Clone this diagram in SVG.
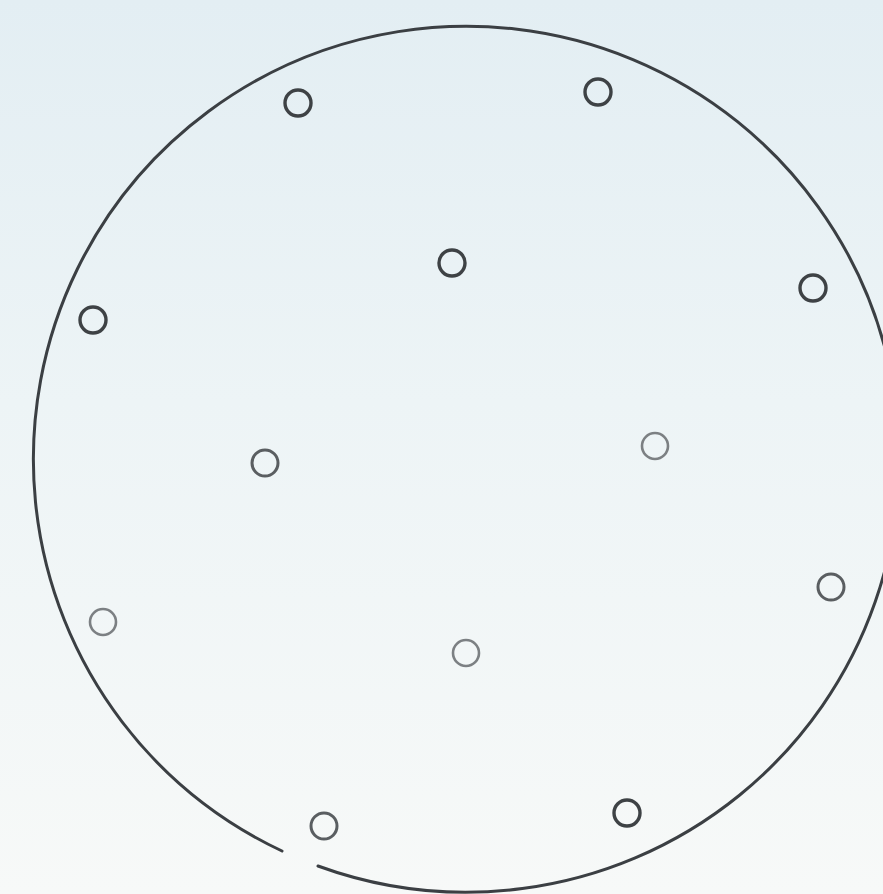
<svg xmlns="http://www.w3.org/2000/svg" width="883" height="894" viewBox="0 0 883 894">
  <defs>
    <linearGradient id="bg" x1="0" y1="0" x2="0" y2="1">
      <stop offset="0" stop-color="#e3eef3"/>
      <stop offset="0.45" stop-color="#edf4f6"/>
      <stop offset="1" stop-color="#f7f9f8"/>
    </linearGradient>
    <style>
      .rim { fill: none; stroke: #3b3f43; stroke-width: 3; stroke-linecap: round; }
      .hole { fill: none; stroke-width: 3.4; }
      .dark { stroke: #3e4245; }
      .mid { stroke: #5a5e61; stroke-width: 3; }
      .light { stroke: #7c8083; stroke-width: 2.6; }
    </style>
  </defs>
  <rect x="0" y="0" width="883" height="894" fill="url(#bg)"/>
  <g id="plate">
    <path class="rim" d="M318 866 A433 433 0 1 0 282 851"/>
  </g>
  <g id="holes">
    <g id="hole1"><circle class="hole dark" cx="298" cy="103" r="13"/></g>
    <g id="hole2"><circle class="hole dark" cx="598" cy="92" r="13"/></g>
    <g id="hole3"><circle class="hole dark" cx="452" cy="263" r="13"/></g>
    <g id="hole4"><circle class="hole dark" cx="93" cy="320" r="13"/></g>
    <g id="hole5"><circle class="hole dark" cx="813" cy="288" r="13"/></g>
    <g id="hole6"><circle class="hole mid" cx="265" cy="463" r="13"/></g>
    <g id="hole7"><circle class="hole light" cx="655" cy="446" r="13"/></g>
    <g id="hole8"><circle class="hole light" cx="103" cy="622" r="13"/></g>
    <g id="hole9"><circle class="hole mid" cx="831" cy="587" r="13"/></g>
    <g id="hole10"><circle class="hole light" cx="466" cy="653" r="13"/></g>
    <g id="hole11"><circle class="hole mid" cx="324" cy="826" r="13"/></g>
    <g id="hole12"><circle class="hole dark" cx="627" cy="813" r="13"/></g>
  </g>
</svg>
